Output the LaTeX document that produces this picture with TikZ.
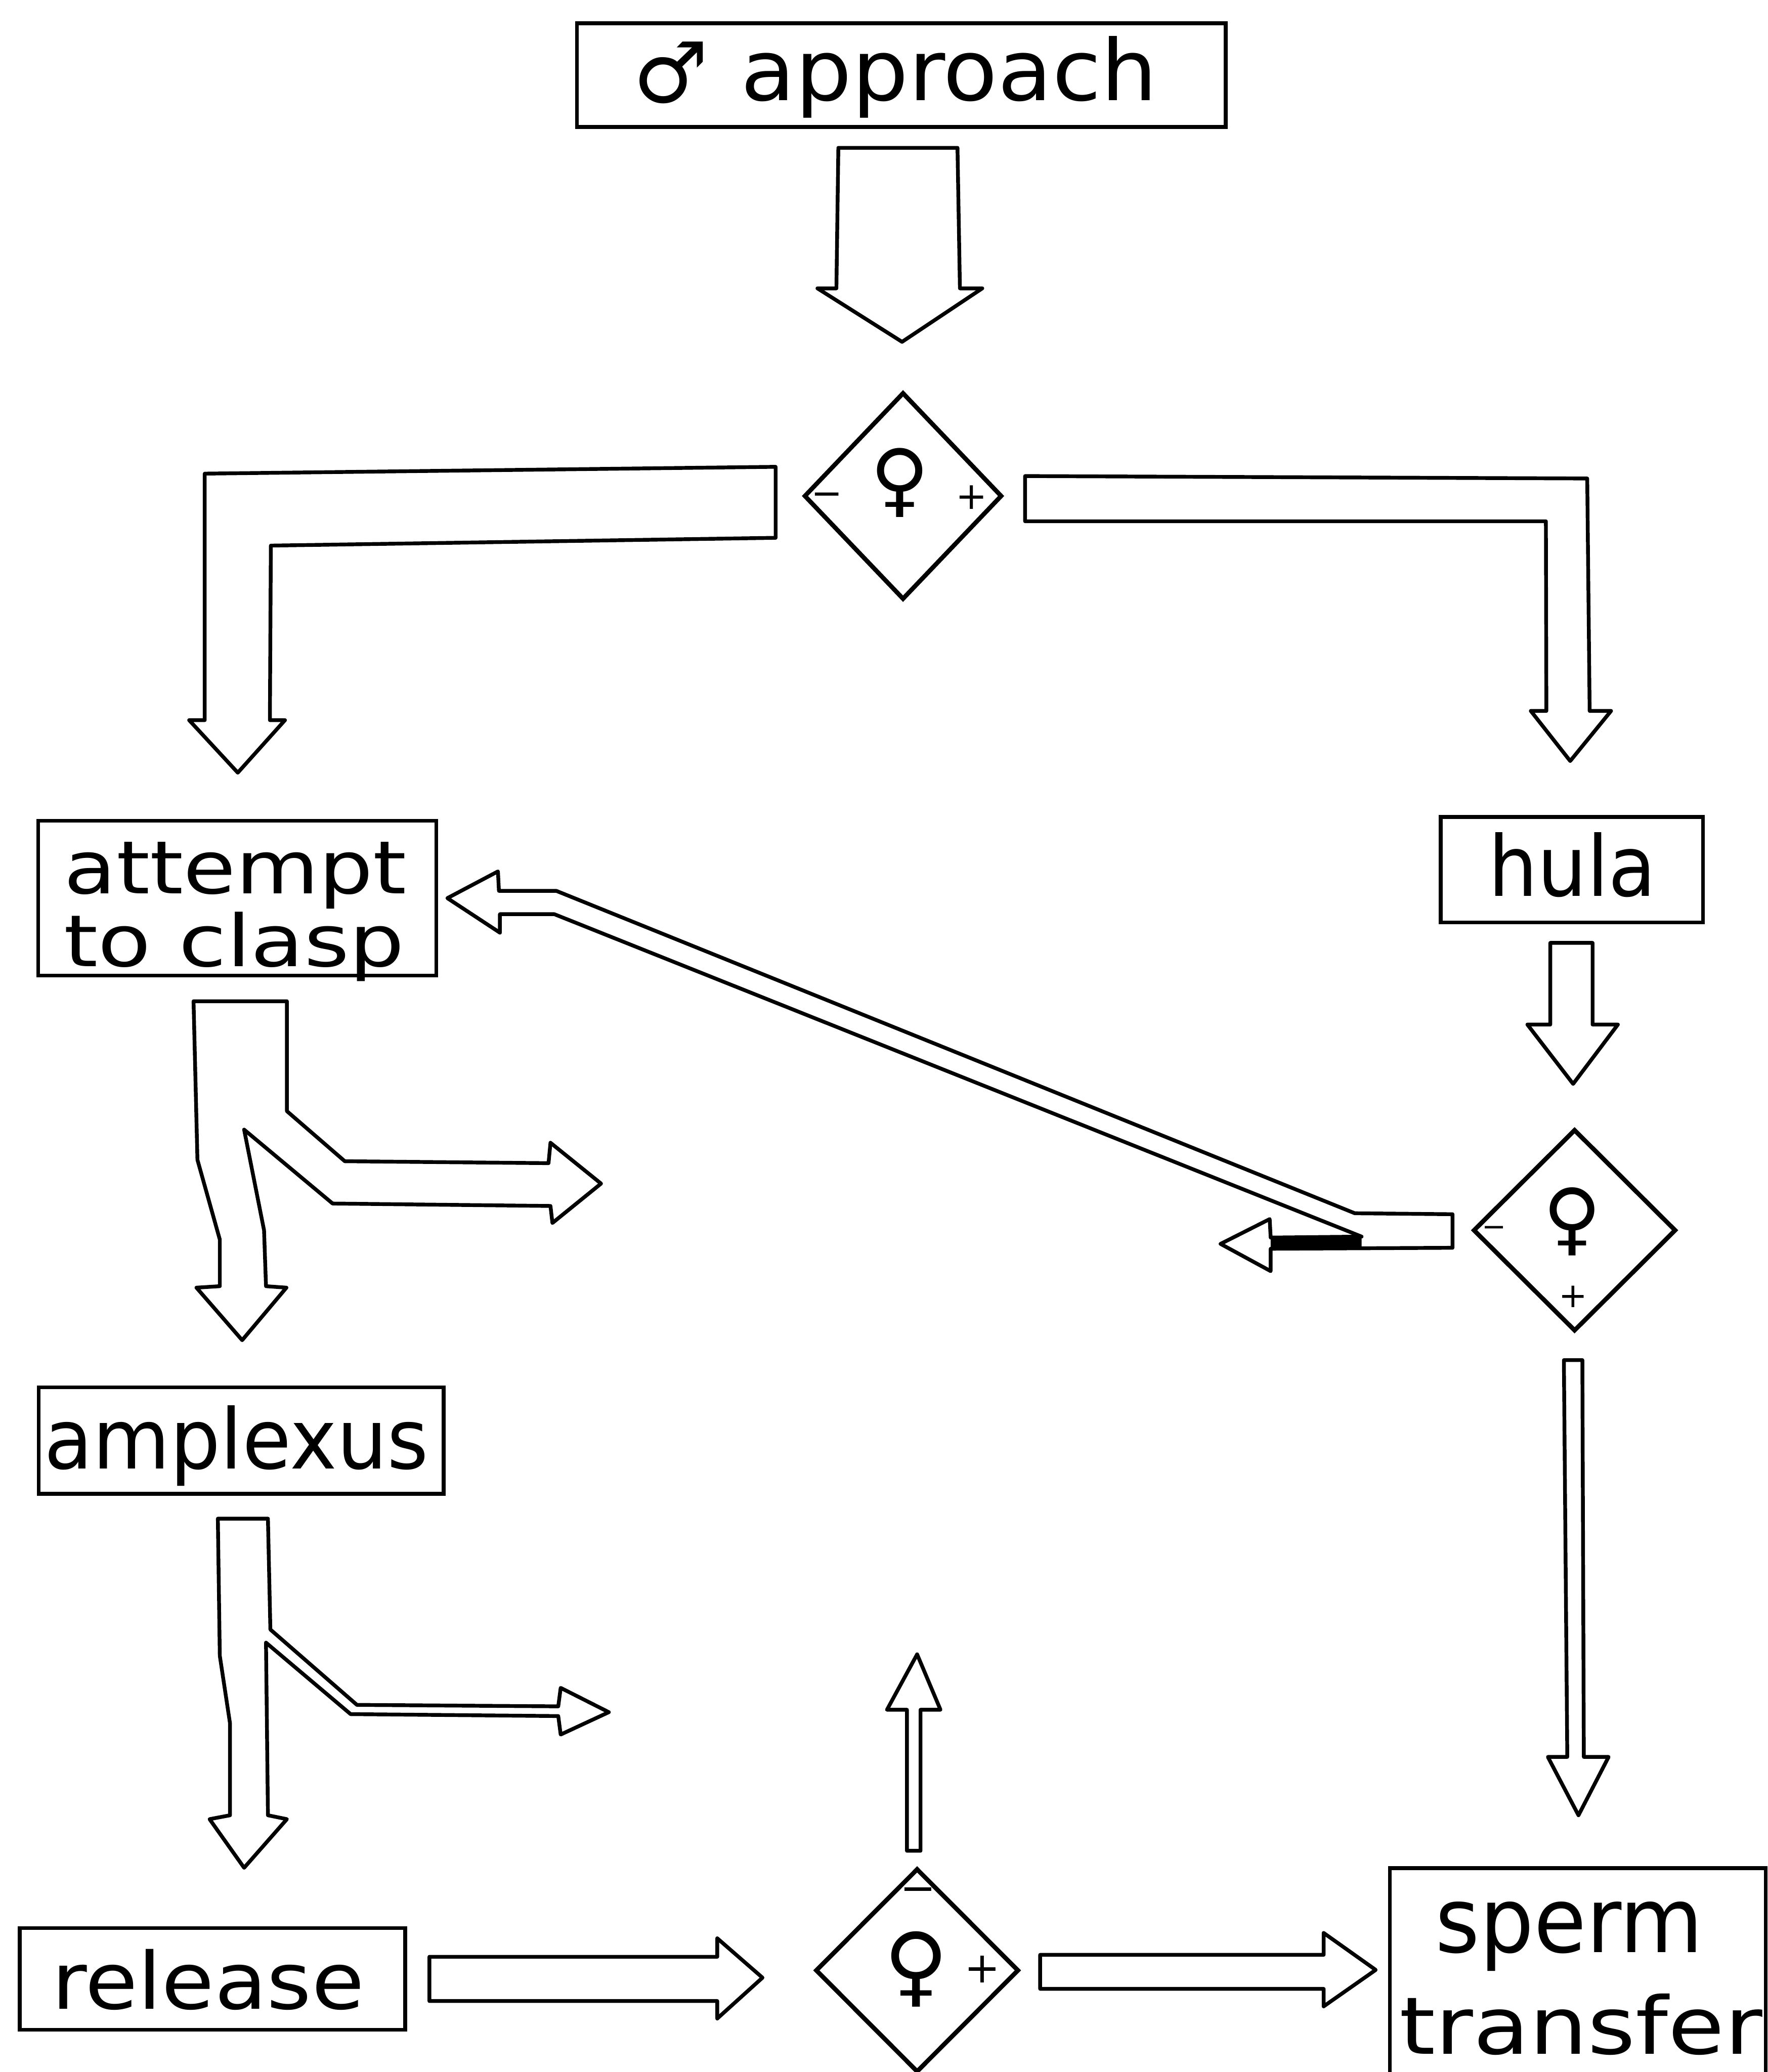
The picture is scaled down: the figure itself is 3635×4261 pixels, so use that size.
\documentclass[tikz,border=0pt]{standalone}
\usepackage{fontspec}
\setmainfont{DejaVu Sans}
\usetikzlibrary{shapes.geometric}
\begin{document}
\begin{tikzpicture}[x=0.01cm,y=-0.01cm,
  box/.style={draw,line width=2.2pt,inner sep=0pt},
  blk/.style={draw,line width=2.2pt,line join=round},
  dia/.style={draw,diamond,line width=2.6pt,inner sep=0pt},
  lbl/.style={inner sep=0pt,anchor=base west},
  sym/.style={inner sep=0pt},
  pm/.style={inner sep=0pt,font=\fontsize{22pt}{22pt}\selectfont}]
\useasboundingbox (0,0) rectangle (3635,4261);
\fill[white] (0,0) rectangle (3635,4261);
\clip (0,0) rectangle (3635,4261);

% boxes
\node[box,minimum width=13.33cm,minimum height=2.13cm] (approach) at (1853.5,154.5) {};
\node[box,minimum width=8.18cm,minimum height=3.18cm] (attempt) at (488,1847) {};
\node[box,minimum width=8.32cm,minimum height=2.19cm] (amplexus) at (496,2962.5) {};
\node[box,minimum width=7.92cm,minimum height=2.09cm] (release) at (437,4069.5) {};
\node[box,minimum width=5.39cm,minimum height=2.17cm] (hula) at (3232.5,1788.5) {};
\node[box,minimum width=7.73cm,minimum height=4.8cm,anchor=north west] (sperm) at (2854,3838) {};

% labels
\node[sym] (male) at (1380,150) {\resizebox*{!}{1.27cm}{♂}};
\node[lbl] (tApp) at (1523,206) {\resizebox{8.56cm}{1.32cm}{approach}};
\node[lbl] (tAtt1) at (131,1838) {\resizebox{7.04cm}{1.06cm}{attempt}};
\node[lbl] (tAtt2) at (131,1987) {\resizebox{7.00cm}{1.12cm}{to clasp}};
\node[lbl] (tAmp) at (90,3020) {\resizebox{7.90cm}{1.30cm}{amplexus}};
\node[lbl] (tRel) at (106,4131) {\resizebox{6.42cm}{1.23cm}{release}};
\node[lbl] (tHula) at (3060,1843) {\resizebox{3.45cm}{1.31cm}{hula}};
\node[lbl] (tSp1) at (2951,4015) {\resizebox{5.50cm}{1.04cm}{sperm}};
\node[lbl] (tSp2) at (2877,4224) {\resizebox{7.46cm}{1.24cm}{transfer}};

% diamonds
\node[dia,minimum width=4.07cm,minimum height=4.26cm] (d1) at (1857,1020) {};
\node[dia,minimum width=4.17cm,minimum height=4.15cm] (d2) at (3238,2530) {};
\node[dia,minimum width=4.18cm,minimum height=4.19cm] (d3) at (1886,4052) {};
\node[sym] (f1) at (1851,993) {\resizebox*{!}{1.42cm}{♀}};
\node[pm] (m1) at (1700,1027) {−};
\node[pm] (p1) at (1998,1023) {+};
\node[sym] (f2) at (3233,2512) {\resizebox*{!}{1.40cm}{♀}};
\node[pm,font=\fontsize{17pt}{17pt}\selectfont] (m2) at (3073,2532) {−};
\node[pm,font=\fontsize{20pt}{20pt}\selectfont] (p2) at (3235,2667) {+};
\node[sym] (f3) at (1884,4050) {\resizebox*{!}{1.55cm}{♀}};
\node[pm,font=\fontsize{25pt}{25pt}\selectfont] (m3) at (1888,3897) {−};
\node[pm,font=\fontsize{25pt}{25pt}\selectfont] (p3) at (2020,4050) {+};

% block arrows
% approach -> d1
\draw[blk] (1724,304) -- (1969,304) -- (1974,593) -- (2020,593) -- (1855,703) -- (1681,593) -- (1720,593) -- cycle;
% d1 -> attempt (L)
\draw[blk] (1595,960) -- (421,974) -- (421,1481) -- (389,1481) -- (489,1589) -- (586,1481) -- (555,1481) -- (557,1122) -- (1595,1106) -- cycle;
% d1 -> hula (L)
\draw[blk] (2108,979) -- (3264,984) -- (3269,1462) -- (3313,1462) -- (3229,1565) -- (3148,1462) -- (3180,1462) -- (3179,1072) -- (2108,1072) -- cycle;
% hula -> d2
\draw[blk] (3188,1939) -- (3275,1939) -- (3275,2107) -- (3327,2107) -- (3235,2229) -- (3141,2107) -- (3188,2107) -- cycle;
% d2 -> sperm transfer
\draw[blk] (3216,2797) -- (3254,2797) -- (3257,3613) -- (3308,3613) -- (3246,3733) -- (3183,3613) -- (3223,3613) -- cycle;
% d2 -> attempt (diagonal) and short left branch
\fill (2613,2545) -- (2800,2543) -- (2800,2567) -- (2613,2568) -- cycle;
\draw[blk] (2987,2497) -- (2786,2495) -- (1144,1832) -- (1026,1832) -- (1024,1792) -- (920,1847) -- (1028,1918) -- (1028,1880) -- (1140,1880) -- (2800,2543) -- (2613,2545) -- (2611,2507) -- (2510,2558) -- (2613,2614) -- (2613,2568) -- (2987,2566) -- cycle;
% attempt -> amplexus + branch
\draw[blk] (398,2059) -- (590,2059) -- (590,2285) -- (709,2388) -- (1128,2392) -- (1132,2350) -- (1236,2434) -- (1136,2515) -- (1132,2480) -- (684,2475) -- (502,2323) -- (543,2530) -- (547,2645) -- (589,2648) -- (498,2756) -- (404,2648) -- (452,2645) -- (452,2549) -- (406,2385) -- cycle;
% amplexus -> release + branch
\draw[blk] (448,3123) -- (551,3123) -- (556,3351) -- (734,3506) -- (1148,3509) -- (1153,3471) -- (1252,3521) -- (1153,3567) -- (1148,3529) -- (721,3525) -- (547,3378) -- (551,3733) -- (590,3741) -- (502,3841) -- (431,3741) -- (473,3733) -- (473,3544) -- (452,3405) -- cycle;
% release -> d3
\draw[blk] (883,4024) -- (1475,4024) -- (1475,3986) -- (1568,4067) -- (1475,4151) -- (1475,4115) -- (883,4115) -- cycle;
% d3 -> up
\draw[blk] (1865,3806) -- (1865,3516) -- (1824,3516) -- (1886,3402) -- (1934,3516) -- (1893,3516) -- (1893,3806) -- cycle;
% d3 -> sperm transfer
\draw[blk] (2139,4020) -- (2722,4020) -- (2722,3975) -- (2829,4051) -- (2722,4126) -- (2722,4090) -- (2139,4090) -- cycle;
\end{tikzpicture}
\end{document}
